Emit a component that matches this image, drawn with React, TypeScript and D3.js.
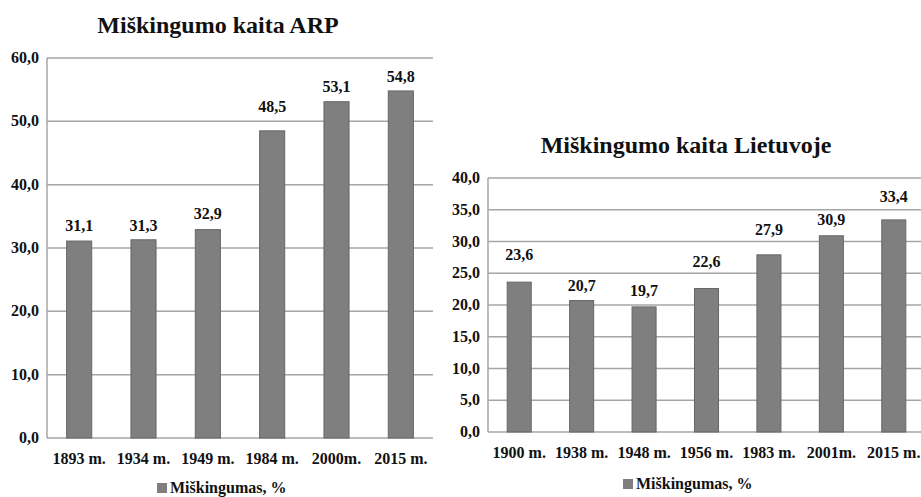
import React, { useEffect, useRef } from "react";
import * as d3 from "d3";

// ARP chart
const arpYears = ["1893 m.", "1934 m.", "1949 m.", "1984 m.", "2000m.", "2015 m."];
const arpValues = [31.1, 31.3, 32.9, 48.5, 53.1, 54.8];
const arpTicks = [0, 10, 20, 30, 40, 50, 60];

// Lietuva chart
const ltYears = ["1900 m.", "1938 m.", "1948 m.", "1956 m.", "1983 m.", "2001m.", "2015 m."];
const ltValues = [23.6, 20.7, 19.7, 22.6, 27.9, 30.9, 33.4];
const ltTicks = [0, 5, 10, 15, 20, 25, 30, 35, 40];

const FONT = "'Liberation Serif', 'Times New Roman', serif";
const GRID = "#a6a6a6";
const BAR = "#7f7f7f";

// label gap above each bar (the original labels are nudged around gridlines)
const arpLabelGap = [10, 9, 11, 19, 10, 9];
const ltLabelGap = [22, 10, 11, 21, 20, 11, 18];

const fmt = (v: number) => v.toFixed(1).replace(".", ",");

function drawChart(svg: any, opt: any) {
    const { cats, vals, ticks, x0, x1, yTop, yBottom, max, title, titleX, titleY,
        labelY, legendX, legendY, gaps, barFrac } = opt;

    const x = d3.scaleBand().domain(cats).range([x0, x1]).padding(0);
    const y = d3.scaleLinear().domain([0, max]).range([yBottom, yTop]);
    const bw = x.step() * barFrac;
    const g = svg.append("g");

    // tiêu đề
    g.append("text")
        .attr("x", titleX).attr("y", titleY)
        .attr("text-anchor", "middle")
        .attr("font-family", FONT).attr("font-weight", "bold").attr("font-size", 24)
        .attr("fill", "#111")
        .text(title);

    // gridlines
    g.selectAll(".grid").data(ticks).enter().append("line")
        .attr("x1", x0).attr("x2", x1)
        .attr("y1", (d: number) => y(d)).attr("y2", (d: number) => y(d))
        .attr("stroke", GRID).attr("stroke-width", 1.5);

    g.append("line")
        .attr("x1", x0).attr("x2", x0)
        .attr("y1", y(max)).attr("y2", y(0))
        .attr("stroke", GRID).attr("stroke-width", 1.5);

    // y tick labels
    g.selectAll(".yt").data(ticks).enter().append("text")
        .attr("x", x0 - 8).attr("y", (d: number) => y(d) + 5)
        .attr("text-anchor", "end")
        .attr("font-family", FONT).attr("font-weight", "bold").attr("font-size", 16)
        .attr("fill", "#111")
        .text((d: number) => fmt(d));

    // bars
    g.selectAll(".bar").data(vals).enter().append("rect")
        .attr("x", (d: number, i: number) => (x(cats[i]) as number) + (x.step() - bw) / 2)
        .attr("y", (d: number) => y(d))
        .attr("width", bw)
        .attr("height", (d: number) => y(0) - y(d))
        .attr("fill", BAR).attr("stroke", "#666").attr("stroke-width", 1);

    // value labels
    g.selectAll(".vl").data(vals).enter().append("text")
        .attr("x", (d: number, i: number) => (x(cats[i]) as number) + x.step() / 2)
        .attr("y", (d: number, i: number) => y(d) - gaps[i])
        .attr("text-anchor", "middle")
        .attr("font-family", FONT).attr("font-weight", "bold").attr("font-size", 16)
        .attr("fill", "#111")
        .text((d: number) => fmt(d));

    // x labels
    g.selectAll(".xl").data(cats).enter().append("text")
        .attr("x", (d: string) => (x(d) as number) + x.step() / 2)
        .attr("y", labelY)
        .attr("text-anchor", "middle")
        .attr("font-family", FONT).attr("font-weight", "bold").attr("font-size", 16)
        .attr("fill", "#111")
        .text((d: string) => d);

    // legend
    g.append("rect")
        .attr("x", legendX).attr("y", legendY - 10)
        .attr("width", 10).attr("height", 10)
        .attr("fill", BAR);
    g.append("text")
        .attr("x", legendX + 13).attr("y", legendY)
        .attr("font-family", FONT).attr("font-weight", "bold").attr("font-size", 16)
        .attr("fill", "#111")
        .text("Miškingumas, %");
}

export const App: React.FC = () => {
    const chartRef: any = useRef(null);

    useEffect(() => {
        const root = d3.select(chartRef.current);
        root.selectAll("*").remove();
        const svg = root.append("svg")
            .attr("width", 921).attr("height", 497)
            .style("display", "block")
            .style("background", "#fff");

        drawChart(svg, {
            cats: arpYears, vals: arpValues, ticks: arpTicks,
            x0: 47, x1: 433, yTop: 58, yBottom: 438, max: 60,
            title: "Miškingumo kaita ARP", titleX: 218, titleY: 33,
            labelY: 464, legendX: 157, legendY: 493, gaps: arpLabelGap, barFrac: 0.39,
        });

        drawChart(svg, {
            cats: ltYears, vals: ltValues, ticks: ltTicks,
            x0: 488, x1: 925, yTop: 178, yBottom: 432, max: 40,
            title: "Miškingumo kaita Lietuvoje", titleX: 686, titleY: 153,
            labelY: 458, legendX: 623, legendY: 489, gaps: ltLabelGap, barFrac: 0.385,
        });
    }, []);

    return (
        <div ref={chartRef} style={{ position: "fixed", left: 0, top: 0, width: 921, height: 497, overflow: "hidden" }}></div>
    );
};

export default App;
